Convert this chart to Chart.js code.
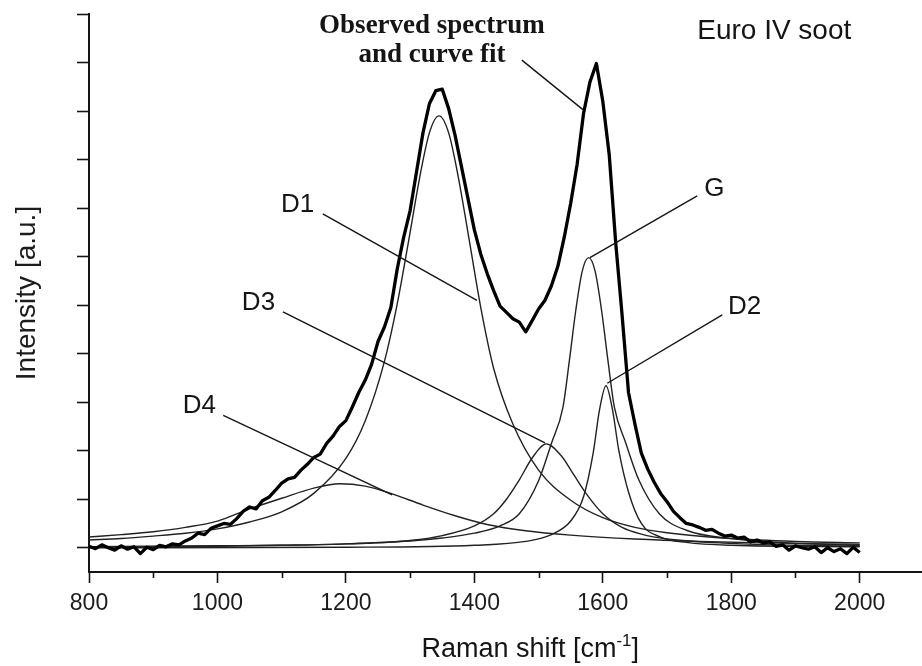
<!DOCTYPE html>
<html>
<head>
<meta charset="utf-8">
<title>Euro IV soot - Raman spectrum</title>
<script src="https://cdn.jsdelivr.net/npm/chart.js@4.4.0/dist/chart.umd.min.js"></script>
<style>
  html, body { margin: 0; padding: 0; background: #fff; }
  #wrap { width: 922px; height: 666px; }
</style>
</head>
<body>
<div id="wrap"><canvas id="ramanChart" width="922" height="666"></canvas></div>
<script>
// Axis ticks (Raman shift in cm-1, intensity in a.u.)
const xTicks = [800, 1000, 1200, 1400, 1600, 1800, 2000];
const xMinorTicks = [900, 1100, 1300, 1500, 1700, 1900];
const yTicks = [0, 1, 2, 3, 4, 5, 6, 7, 8, 9, 10, 11];

// Observed spectrum, every 10 cm-1
const observedX = [
  800, 810, 820, 830, 840, 850, 860, 870, 880, 890,
  900, 910, 920, 930, 940, 950, 960, 970, 980, 990,
  1000, 1010, 1020, 1030, 1040, 1050, 1060, 1070, 1080, 1090,
  1100, 1110, 1120, 1130, 1140, 1150, 1160, 1170, 1180, 1190,
  1200, 1210, 1220, 1230, 1240, 1250, 1260, 1270, 1280, 1290,
  1300, 1310, 1320, 1330, 1340, 1350, 1360, 1370, 1380, 1390,
  1400, 1410, 1420, 1430, 1440, 1450, 1460, 1470, 1480, 1490,
  1500, 1510, 1520, 1530, 1540, 1550, 1560, 1570, 1580, 1590,
  1600, 1610, 1620, 1630, 1640, 1650, 1660, 1670, 1680, 1690,
  1700, 1710, 1720, 1730, 1740, 1750, 1760, 1770, 1780, 1790,
  1800, 1810, 1820, 1830, 1840, 1850, 1860, 1870, 1880, 1890,
  1900, 1910, 1920, 1930, 1940, 1950, 1960, 1970, 1980, 1990,
  2000
];
const observedY = [
  0.03, -0.02, 0.06, 0.00, -0.05, 0.04, -0.03, 0.02, -0.12, 0.01,
  -0.04, 0.05, 0.02, 0.08, 0.06, 0.14, 0.20, 0.30, 0.27, 0.40,
  0.45, 0.50, 0.48, 0.60, 0.75, 0.84, 0.80, 0.97, 1.04, 1.18,
  1.33, 1.42, 1.45, 1.60, 1.72, 1.86, 1.93, 2.15, 2.30, 2.50,
  2.62, 2.90, 3.20, 3.45, 3.78, 4.25, 4.55, 4.95, 5.75, 6.40,
  6.95, 7.75, 8.55, 9.15, 9.42, 9.45, 9.05, 8.50, 7.85, 7.20,
  6.55, 6.05, 5.65, 5.30, 4.98, 4.85, 4.72, 4.65, 4.45, 4.68,
  4.92, 5.10, 5.40, 5.80, 6.40, 7.10, 7.90, 8.95, 9.60, 9.98,
  9.20, 8.10, 6.30, 4.80, 3.20, 2.55, 1.95, 1.62, 1.35, 1.12,
  0.95, 0.75, 0.62, 0.50, 0.47, 0.42, 0.36, 0.38, 0.30, 0.24,
  0.26, 0.20, 0.22, 0.12, 0.16, 0.10, 0.12, 0.03, 0.06, -0.05,
  0.04, 0.00, -0.03, 0.02, -0.10, 0.00, -0.08, -0.02, -0.12, 0.01,
  -0.10
];

// Fitted bands
const d1X = [800, 850, 900, 950, 1000, 1050, 1100, 1150, 1200, 1230, 1260, 1280, 1300, 1315, 1330, 1345, 1360, 1375, 1390, 1410, 1430, 1460, 1500, 1550, 1600, 1650, 1700, 1800, 1900, 2000];
const d1Y = [0.16, 0.19, 0.24, 0.30, 0.39, 0.53, 0.74, 1.12, 1.84, 2.61, 3.84, 5.03, 6.50, 7.64, 8.55, 8.90, 8.55, 7.64, 6.50, 4.95, 3.70, 2.55, 1.60, 0.98, 0.62, 0.42, 0.31, 0.19, 0.13, 0.10];

const d4X = [800, 850, 900, 950, 1000, 1050, 1100, 1150, 1190, 1230, 1270, 1320, 1370, 1420, 1480, 1550, 1650, 1750, 1850, 2000];
const d4Y = [0.22, 0.27, 0.33, 0.42, 0.55, 0.80, 1.02, 1.23, 1.32, 1.27, 1.12, 0.88, 0.66, 0.48, 0.35, 0.26, 0.18, 0.13, 0.10, 0.07];

const d3X = [800, 1000, 1100, 1200, 1300, 1350, 1400, 1430, 1450, 1470, 1490, 1512, 1535, 1555, 1575, 1600, 1630, 1660, 1700, 1800, 1900, 2000];
const d3Y = [0.02, 0.03, 0.05, 0.08, 0.15, 0.25, 0.45, 0.70, 1.00, 1.40, 1.85, 2.14, 1.90, 1.50, 1.10, 0.70, 0.42, 0.28, 0.18, 0.09, 0.05, 0.03];

const gX = [800, 900, 1000, 1100, 1200, 1300, 1350, 1400, 1440, 1470, 1500, 1520, 1538, 1548, 1558, 1568, 1578, 1588, 1598, 1608, 1618, 1636, 1656, 1688, 1730, 1800, 1900, 2000];
const gY = [0.02, 0.03, 0.04, 0.05, 0.08, 0.14, 0.20, 0.30, 0.45, 0.70, 1.38, 2.15, 2.90, 3.86, 4.90, 5.70, 5.98, 5.70, 4.90, 3.86, 2.90, 2.15, 1.40, 0.70, 0.36, 0.19, 0.09, 0.05];

const d2X = [800, 1200, 1400, 1480, 1520, 1550, 1570, 1585, 1595, 1605, 1615, 1625, 1640, 1660, 1690, 1730, 1800, 2000];
const d2Y = [0.00, 0.01, 0.05, 0.13, 0.27, 0.55, 1.05, 1.95, 2.85, 3.34, 2.85, 2.00, 1.15, 0.50, 0.22, 0.11, 0.05, 0.02];

// Labels and leader lines, anchored in data units
const bandLabels = [
  { text: 'D1', x: 1099, y: 6.92 },
  { text: 'D3', x: 1038, y: 4.90 },
  { text: 'D4', x: 946, y: 2.78 },
  { text: 'G', x: 1758, y: 7.25 },
  { text: 'D2', x: 1795, y: 4.82 },
  { text: 'Euro IV soot', x: 1747, y: 10.48 }
];
const observedCaption = [
  { text: 'Observed spectrum', x: 1334, y: 10.61 },
  { text: 'and curve fit', x: 1334, y: 10.01 }
];
const leaderLines = [
  [1474, 10.05, 1569, 9.03],
  [1164, 6.88, 1404, 5.10],
  [1102, 4.86, 1510, 2.16],
  [1009, 2.73, 1272, 1.09],
  [1747, 7.25, 1580, 5.98],
  [1786, 4.80, 1607, 3.39]
];

const ink = '#151515';

function toPoints(xs, ys) {
  return xs.map((x, i) => ({ x: x, y: ys[i] }));
}

function bandDataset(label, xs, ys) {
  return {
    label: label,
    data: toPoints(xs, ys),
    borderColor: '#222',
    borderWidth: 1.4,
    pointRadius: 0,
    cubicInterpolationMode: 'monotone',
    fill: false
  };
}

// Minor ticks on the Raman shift axis
const minorTickPlugin = {
  id: 'minorTicks',
  afterDraw(chart) {
    const { ctx, chartArea, scales } = chart;
    ctx.save();
    ctx.strokeStyle = ink;
    ctx.lineWidth = 1.6;
    xMinorTicks.forEach(v => {
      const px = Math.round(scales.x.getPixelForValue(v)) + 0.5;
      ctx.beginPath();
      ctx.moveTo(px, chartArea.bottom);
      ctx.lineTo(px, chartArea.bottom + 6);
      ctx.stroke();
    });
    ctx.restore();
  }
};

// Leader lines, band labels, caption and the x title with its superscript
const annotationPlugin = {
  id: 'annotations',
  afterDraw(chart) {
    const { ctx, scales } = chart;
    const sx = scales.x, sy = scales.y;
    ctx.save();
    ctx.strokeStyle = ink;
    ctx.lineWidth = 1.4;
    leaderLines.forEach(l => {
      ctx.beginPath();
      ctx.moveTo(sx.getPixelForValue(l[0]), sy.getPixelForValue(l[1]));
      ctx.lineTo(sx.getPixelForValue(l[2]), sy.getPixelForValue(l[3]));
      ctx.stroke();
    });

    ctx.fillStyle = ink;
    ctx.textBaseline = 'alphabetic';
    ctx.textAlign = 'left';
    ctx.font = '26px "Liberation Sans", Arial, sans-serif';
    bandLabels.forEach(b => {
      if (b.text === 'Euro IV soot') ctx.font = '28px "Liberation Sans", Arial, sans-serif';
      ctx.fillText(b.text, sx.getPixelForValue(b.x), sy.getPixelForValue(b.y));
    });

    ctx.textAlign = 'center';
    ctx.font = 'bold 27px "Liberation Serif", "Times New Roman", serif';
    observedCaption.forEach(c => {
      ctx.fillText(c.text, sx.getPixelForValue(c.x), sy.getPixelForValue(c.y));
    });

    // x axis title: Raman shift [cm^-1]
    const main = '27px "Liberation Sans", Arial, sans-serif';
    const sup = '17px "Liberation Sans", Arial, sans-serif';
    const parts = [['Raman shift [cm', main, 0], ['-1', sup, -11], [']', main, 0]];
    let total = 0;
    parts.forEach(p => { ctx.font = p[1]; total += ctx.measureText(p[0]).width; });
    let cx = sx.getPixelForValue(1487) - total / 2;
    const base = chart.height - 9;
    ctx.textAlign = 'left';
    parts.forEach(p => {
      ctx.font = p[1];
      ctx.fillText(p[0], cx, base + p[2]);
      cx += ctx.measureText(p[0]).width;
    });
    ctx.restore();
  }
};

new Chart(document.getElementById('ramanChart').getContext('2d'), {
  type: 'line',
  data: {
    datasets: [
      {
        label: 'Observed spectrum',
        data: toPoints(observedX, observedY),
        borderColor: '#000',
        borderWidth: 3.3,
        borderJoinStyle: 'round',
        pointRadius: 0,
        tension: 0,
        fill: false
      },
      bandDataset('D1', d1X, d1Y),
      bandDataset('D4', d4X, d4Y),
      bandDataset('D3', d3X, d3Y),
      bandDataset('G', gX, gY),
      bandDataset('D2', d2X, d2Y)
    ]
  },
  options: {
    responsive: false,
    animation: false,
    devicePixelRatio: 1,
    layout: { padding: { top: 14, right: 0, bottom: 0, left: 0 } },
    plugins: {
      legend: { display: false },
      tooltip: { enabled: false }
    },
    scales: {
      x: {
        type: 'linear',
        min: 800,
        max: 2097,
        afterBuildTicks: s => { s.ticks = xTicks.map(v => ({ value: v })); },
        afterFit: s => { s.height = 94; },
        border: { display: true, color: ink, width: 2 },
        grid: { drawOnChartArea: false, drawTicks: true, tickLength: 11, tickColor: ink, tickWidth: 1.6 },
        ticks: {
          color: '#1c1c1c',
          padding: 7,
          maxRotation: 0,
          font: { family: '"Liberation Sans", Arial, sans-serif', size: 23 },
          callback: v => String(v)
        }
      },
      y: {
        type: 'linear',
        min: -0.5,
        max: 11,
        afterBuildTicks: s => { s.ticks = yTicks.map(v => ({ value: v })); },
        afterFit: s => { s.width = 89; },
        border: { display: true, color: ink, width: 2 },
        grid: { drawOnChartArea: false, drawTicks: true, tickLength: 12, tickColor: ink, tickWidth: 1.6 },
        ticks: { display: false },
        title: {
          display: true,
          text: 'Intensity [a.u.]',
          color: '#1c1c1c',
          padding: { top: 10, bottom: 0 },
          font: { family: '"Liberation Sans", Arial, sans-serif', size: 28 }
        }
      }
    }
  },
  plugins: [minorTickPlugin, annotationPlugin]
});
</script>
</body>
</html>
